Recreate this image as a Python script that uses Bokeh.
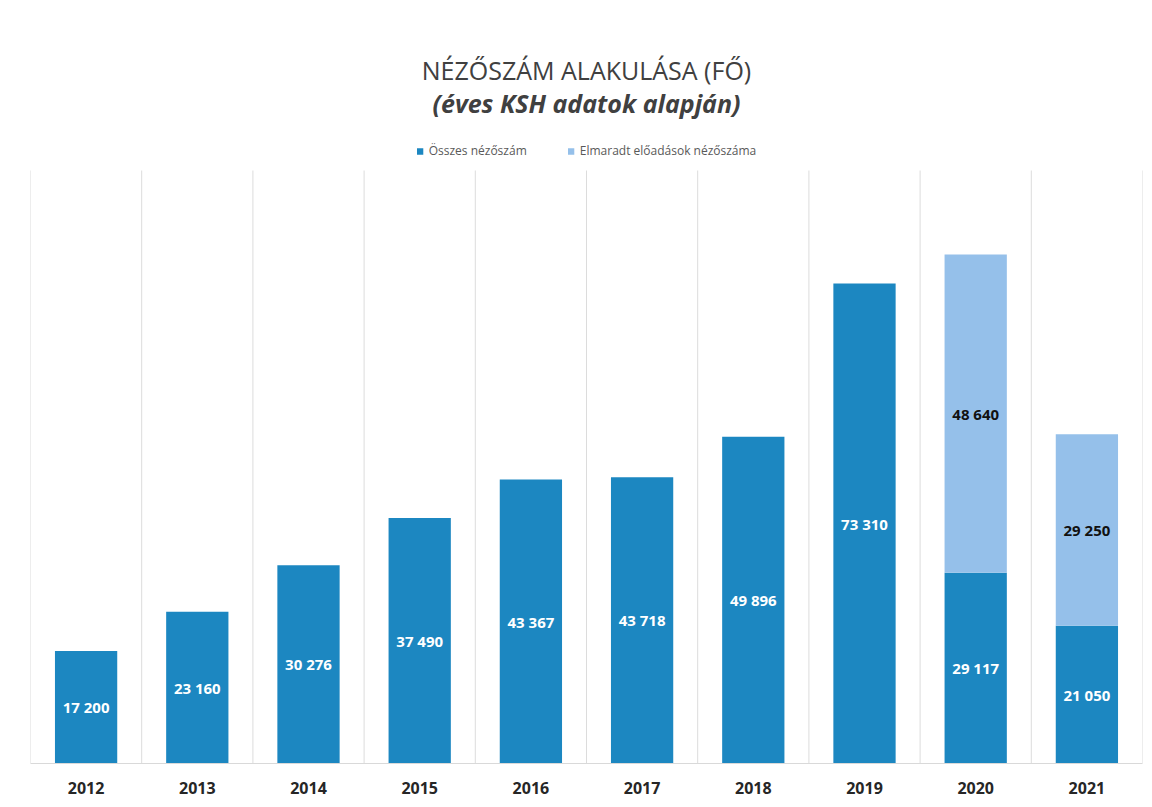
from bokeh.plotting import figure
from bokeh.models import Range1d, FixedTicker, Legend, LegendItem, Title, ColumnDataSource
from bokeh.core.properties import value
from bokeh.embed import file_html
from bokeh.resources import INLINE

years = ["2012", "2013", "2014", "2015", "2016", "2017", "2018", "2019", "2020", "2021"]
osszes = [17200, 23160, 30276, 37490, 43367, 43718, 49896, 73310, 29117, 21050]
elmaradt = [0, 0, 0, 0, 0, 0, 0, 0, 48640, 29250]
series_names = ["Összes nézőszám", "Elmaradt előadások nézőszáma"]

DARK = "#1C87C1"
LIGHT = "#95C0EA"
GRID_TOP = 90576


def fmt(v):
    return f"{v:,}".replace(",", " ")


xs = [i + 0.5 for i in range(len(years))]
src = ColumnDataSource(dict(x=xs, osszes=osszes, elmaradt=elmaradt))

p = figure(width=1150, height=805,
           x_range=Range1d(0, len(years)), y_range=Range1d(0, 98366),
           output_backend="svg", toolbar_location=None, y_axis_location=None,
           min_border_left=30, min_border_right=8, min_border_top=119, min_border_bottom=42,
           title=None)
p.outline_line_color = None
p.background_fill_color = "white"
p.border_fill_color = "white"

# vertical separators between categories (category boundaries)
bounds = list(range(len(years) + 1))
p.segment(x0=bounds, y0=[0] * len(bounds), x1=bounds, y1=[GRID_TOP] * len(bounds),
          line_color="#dcdcdc", line_width=1)

rs = p.vbar_stack(["osszes", "elmaradt"], x="x", width=0.56, color=[DARK, LIGHT],
                  line_color=None, source=src)

# data labels
lab1 = ColumnDataSource(dict(x=xs, y=[v / 2 for v in osszes], t=[fmt(v) for v in osszes]))
p.text(x="x", y="y", text="t", source=lab1, text_align="center", text_baseline="middle",
       text_color="white", text_font=value("Open Sans"), text_font_size="15px",
       text_font_style="bold")
idx = [i for i, v in enumerate(elmaradt) if v > 0]
lab2 = ColumnDataSource(dict(x=[xs[i] for i in idx],
                             y=[osszes[i] + elmaradt[i] / 2 for i in idx],
                             t=[fmt(elmaradt[i]) for i in idx]))
p.text(x="x", y="y", text="t", source=lab2, text_align="center", text_baseline="middle",
       text_color="#111111", text_font=value("Open Sans"), text_font_size="15px",
       text_font_style="bold")

# axes
p.xaxis.ticker = FixedTicker(ticks=xs)
p.xaxis.major_label_overrides = {x: y for x, y in zip(xs, years)}
p.xaxis.major_tick_line_color = None
p.xaxis.minor_tick_line_color = None
p.xaxis.major_tick_out = 0
p.xaxis.major_tick_in = 0
p.xaxis.axis_line_color = "#d9d9d9"
p.xaxis.major_label_standoff = 18
p.xaxis.major_label_text_font = "Open Sans"
p.xaxis.major_label_text_font_size = "16px"
p.xaxis.major_label_text_font_style = "bold"
p.xaxis.major_label_text_color = "#262626"
p.xgrid.grid_line_color = None
p.ygrid.grid_line_color = None

legend = Legend(items=[LegendItem(label=series_names[0], renderers=[rs[0]]),
                       LegendItem(label=series_names[1], renderers=[rs[1]])],
                orientation="horizontal", location="top",
                border_line_color=None, background_fill_alpha=0,
                label_text_font="Open Sans", label_text_font_size="12px",
                label_text_color="#595959", glyph_width=8, glyph_height=8,
                spacing=40, margin=23, padding=4, label_height=12, label_standoff=5)
p.add_layout(legend, "center")

p.add_layout(Title(text="(éves KSH adatok alapján)", align="center", standoff=0,
                   text_font="Open Sans", text_font_size="25px",
                   text_font_style="bold italic", text_color="#404040"), "above")
p.add_layout(Title(text="NÉZŐSZÁM ALAKULÁSA (FŐ)", align="center", standoff=-7,
                   text_font="Open Sans", text_font_size="25px",
                   text_font_style="normal", text_color="#404040"), "above")

open("out.html", "w").write(file_html(p, INLINE))
